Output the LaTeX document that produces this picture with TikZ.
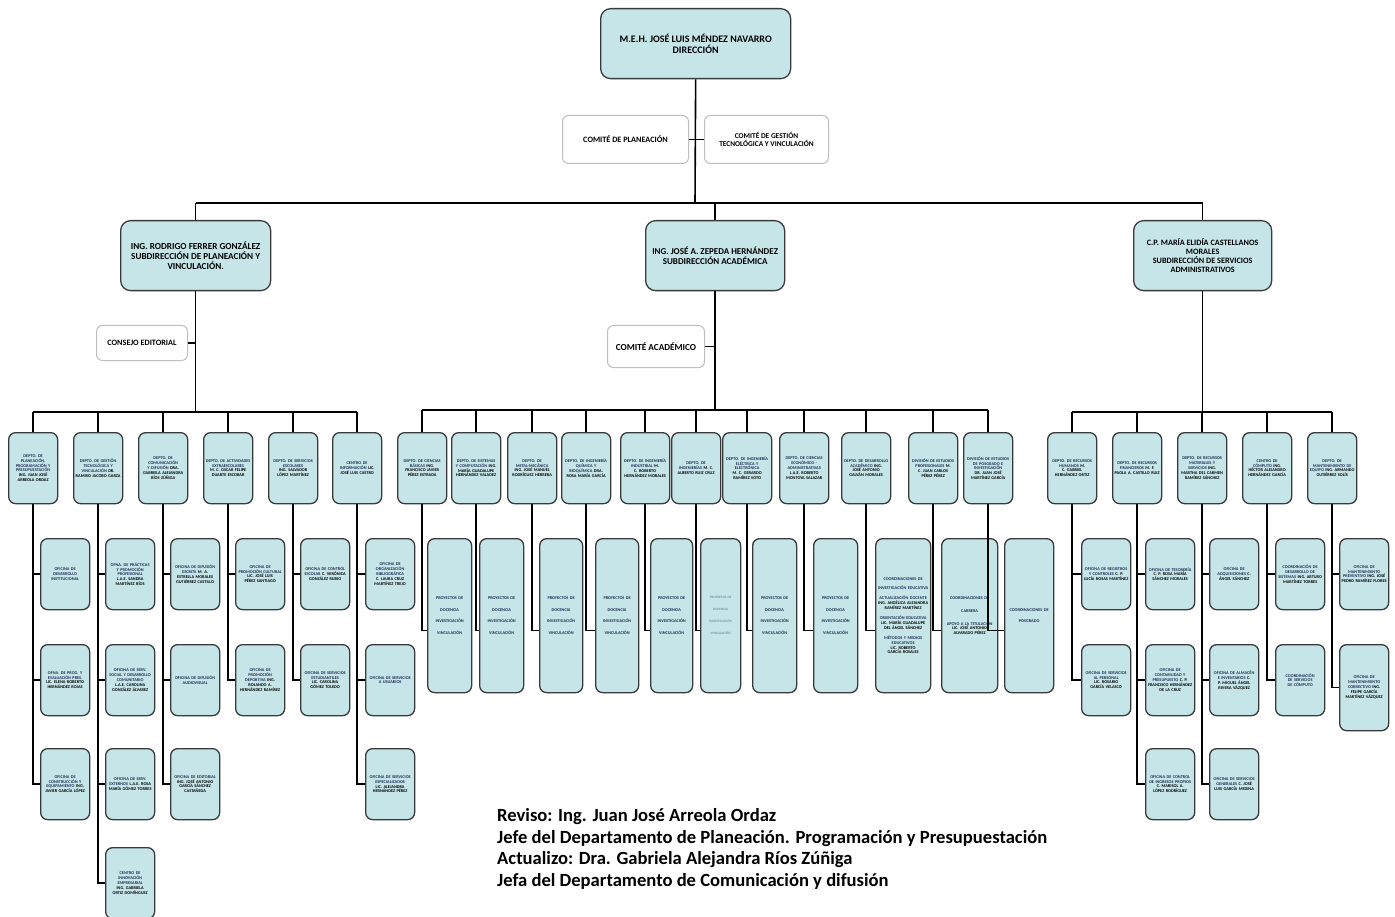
\documentclass[tikz,border=0pt]{standalone}
\usepackage{fontspec}
\setmainfont{Carlito}
\usetikzlibrary{calc,positioning}
\definecolor{boxfill}{HTML}{C5E5E8}
\definecolor{boxline}{HTML}{3A3A3A}
\definecolor{headblue}{HTML}{1F2F55}
\newcommand{\nm}[1]{{\color{black}#1}}
\hyphenpenalty=10000
\exhyphenpenalty=10000
\tikzset{
  link/.style={line width=1.6pt},
  orgbox/.style={draw=boxline, line width=1.3pt, fill=boxfill, rounded corners=8pt, align=center, anchor=north west, inner sep=2pt},
  topbox/.style={orgbox, rounded corners=10pt, font=\bfseries\fontsize{10}{11}\selectfont},
  combox/.style={orgbox, fill=white, draw=black!25, line width=1pt, rounded corners=6pt, font=\bfseries\fontsize{8.2}{8.6}\selectfont},
  deptbox/.style={orgbox, rounded corners=7pt, text width=45pt, minimum height=71pt, text=headblue, font=\bfseries\fontsize{4.3}{4.9}\selectfont},
  tallbox/.style={deptbox, minimum height=154pt}
}
\begin{document}
\begin{tikzpicture}[x=1pt,y=-1pt]
\useasboundingbox (0,0) rectangle (1395,917);
% direccion y comites
\node[topbox, minimum width=190pt, minimum height=70pt] (dir) at (600,8) {M.E.H. JOSÉ LUIS MÉNDEZ NAVARRO\\DIRECCIÓN};
\node[combox, minimum width=126pt, minimum height=48pt] (cplan) at (562,115) {COMITÉ DE PLANEACIÓN};
\node[combox, minimum width=124pt, minimum height=48pt, font=\bfseries\fontsize{7.4}{7.8}\selectfont] (cgest) at (704,115) {COMITÉ DE GESTIÓN\\TECNOLÓGICA Y VINCULACIÓN};
% subdirecciones
\node[topbox, minimum width=150pt, minimum height=70pt, font=\bfseries\fontsize{9.2}{10}\selectfont] (subpv) at (120,220) {ING. RODRIGO FERRER GONZÁLEZ\\SUBDIRECCIÓN DE PLANEACIÓN Y\\VINCULACIÓN.};
\node[topbox, minimum width=139pt, minimum height=70pt, font=\bfseries\fontsize{9}{9.8}\selectfont] (subac) at (645,220) {ING. JOSÉ A. ZEPEDA HERNÁNDEZ\\SUBDIRECCIÓN ACADÉMICA};
\node[topbox, minimum width=138pt, minimum height=70pt, font=\bfseries\fontsize{8.2}{8.8}\selectfont] (subad) at (1133,220) {C.P. MARÍA ELIDÍA CASTELLANOS\\MORALES\\SUBDIRECCIÓN DE SERVICIOS\\ADMINISTRATIVOS};
\node[combox, minimum width=91pt, minimum height=35pt] (cedit) at (96,325) {CONSEJO EDITORIAL};
\node[combox, minimum width=97pt, minimum height=42pt, font=\bfseries\fontsize{9.2}{9.8}\selectfont] (cacad) at (607,325) {COMITÉ ACADÉMICO};
\coordinate (bar) at (695,203);
\draw[link] (dir.south) -- (bar);
\draw[link] (cplan.east) -- (cgest.west);
\draw[link] (subpv.north |- bar) -- (subad.north |- bar);
\foreach \s in {subpv,subac,subad} {
  \draw[link] (\s.north) -- (\s.north |- bar);
}
\coordinate (lbar) at (0,412);
\coordinate (cbar) at (0,410);
\draw[link] (subpv.south) -- (subpv.south |- lbar);
\draw[link] (subac.south) -- (subac.south |- cbar);
\draw[link] (subad.south) -- (subad.south |- lbar);
\draw[link] (cedit.east) -- (cedit.east -| subpv.south);
\draw[link] (cacad.east) -- (cacad.east -| subac.south);
% departamentos de planeacion y vinculacion
\node[deptbox] (pv1) at (8,432) {DEPTO. DE PLANEACIÓN, PROGRAMACIÓN Y PRESUPUESTACIÓN \nm{ING. JUAN JOSÉ ARREOLA ORDAZ}};
\node[deptbox] (pv2) at (73,432) {DEPTO. DE GESTIÓN TECNOLÓGICA Y VINCULACIÓN \nm{DR. RAMIRO JACOBO GARZA}};
\node[deptbox] (pv3) at (138,432) {DEPTO. DE COMUNICACIÓN Y DIFUSIÓN \nm{DRA. GABRIELA ALEJANDRA RÍOS ZÚÑIGA}};
\node[deptbox] (pv4) at (203,432) {DEPTO. DE ACTIVIDADES EXTRAESCOLARES \nm{M. C. OSCAR FELIPE DUARTE ESCOBAR}};
\node[deptbox] (pv5) at (268,432) {DEPTO. DE SERVICIOS ESCOLARES \nm{ING. SALVADOR LÓPEZ MARTÍNEZ}};
\node[deptbox] (pv6) at (332,432) {CENTRO DE INFORMACIÓN \nm{LIC. JOSÉ LUIS CASTRO}};
% departamentos academicos
\node[deptbox] (ac1) at (397,432) {DEPTO. DE CIENCIAS BÁSICAS \nm{ING. FRANCISCO JAVIER PÉREZ ESTRADA}};
\node[deptbox] (ac2) at (451,432) {DEPTO. DE SISTEMAS Y COMPUTACIÓN \nm{ING. MARÍA GUADALUPE HERNÁNDEZ VALADEZ}};
\node[deptbox] (ac3) at (507,432) {DEPTO. DE METAL-MECÁNICA \nm{ING. JOSÉ MANUEL RODRÍGUEZ HERRERA}};
\node[deptbox] (ac4) at (561,432) {DEPTO. DE INGENIERÍA QUÍMICA Y BIOQUÍMICA \nm{DRA. ROSA MARÍA GARCÍA}};
\node[deptbox] (ac5) at (620,432) {DEPTO. DE INGENIERÍA INDUSTRIAL \nm{M. C. ROBERTO HERNÁNDEZ MORALES}};
\node[deptbox] (ac6) at (671,432) {DEPTO. DE INGENIERÍAS \nm{M. C. ALBERTO RUIZ CRUZ}};
\node[deptbox] (ac7) at (722,432) {DEPTO. DE INGENIERÍA ELÉCTRICA Y ELECTRÓNICA \nm{M. C. GERARDO RAMÍREZ SOTO}};
\node[deptbox] (ac8) at (779,432) {DEPTO. DE CIENCIAS ECONÓMICO - ADMINISTRATIVAS \nm{L.A.E. ROBERTO MONTOYA SALAZAR}};
\node[deptbox] (ac9) at (841,432) {DEPTO. DE DESARROLLO ACADÉMICO \nm{ING. JOSÉ ANTONIO GALVÁN MORALES}};
\node[deptbox] (ac10) at (908,432) {DIVISIÓN DE ESTUDIOS PROFESIONALES \nm{M. C. JUAN CARLOS PÉREZ PÉREZ}};
\node[deptbox] (ac11) at (963,432) {DIVISIÓN DE ESTUDIOS DE POSGRADO E INVESTIGACIÓN \nm{DR. JUAN JOSÉ MARTÍNEZ GARCÍA}};
% departamentos administrativos
\node[deptbox] (ad1) at (1047,432) {DEPTO. DE RECURSOS HUMANOS \nm{M. C. GABRIEL HERNÁNDEZ ORTIZ}};
\node[deptbox] (ad2) at (1112,432) {DEPTO. DE RECURSOS FINANCIEROS \nm{M. F. PAOLA A. CASTILLO RUIZ}};
\node[deptbox] (ad3) at (1177,432) {DEPTO. DE RECURSOS MATERIALES Y SERVICIOS \nm{ING. MARTHA DEL CARMEN RAMÍREZ SÁNCHEZ}};
\node[deptbox] (ad4) at (1242,432) {CENTRO DE CÓMPUTO \nm{ING. HÉCTOR ALEJANDRO HERNÁNDEZ GARCÍA}};
\node[deptbox] (ad5) at (1307,432) {DEPTO. DE MANTENIMIENTO DE EQUIPO \nm{ING. ARMANDO GUTIÉRREZ SOLÍS}};
\draw[link] (pv1.north |- lbar) -- (pv6.north |- lbar);
\draw[link] (ac1.north |- cbar) -- (ac11.north |- cbar);
\draw[link] (ad1.north |- lbar) -- (ad5.north |- lbar);
\foreach \d in {pv1,pv2,pv3,pv4,pv5,pv6,ad1,ad2,ad3,ad4,ad5} {
  \draw[link] (\d.north) -- (\d.north |- lbar);
}
\foreach \d in {1,...,11} {
  \draw[link] (ac\d.north) -- (ac\d.north |- cbar);
}
% oficinas de planeacion y vinculacion
\node[deptbox] (of11) at (40,538) {OFICINA DE DESARROLLO INSTITUCIONAL};
\node[deptbox] (of12) at (40,644) {OFNA. DE PROG. Y EVALUACIÓN PRES. \nm{LIC. ELENA ROBERTO HERNÁNDEZ ROJAS}};
\node[deptbox] (of13) at (40,748) {OFICINA DE CONSTRUCCIÓN Y EQUIPAMIENTO \nm{ING. JAVIER GARCÍA LÓPEZ}};
\node[deptbox] (of21) at (105,538) {OFNA. DE PRÁCTICAS Y PROMOCIÓN PROFESIONAL \nm{L.A.E. SANDRA MARTÍNEZ RÍOS}};
\node[deptbox] (of22) at (105,644) {OFICINA DE SERV. SOCIAL Y DESARROLLO COMUNITARIO \nm{L.A.E. CAROLINA GONZÁLEZ ÁLVAREZ}};
\node[deptbox] (of23) at (105,748) {OFICINA DE SERV. EXTERNOS \nm{L.A.E. ROSA MARÍA GÓMEZ TORRES}};
\node[deptbox] (of24) at (105,847) {CENTRO DE INNOVACIÓN EMPRESARIAL \nm{ING. GABRIELA ORTIZ DOMÍNGUEZ}};
\node[deptbox] (of31) at (170,538) {OFICINA DE DIFUSIÓN ESCRITA \nm{M. A. ESTRELLA MORALES GUTIÉRREZ CASTILLO}};
\node[deptbox] (of32) at (170,644) {OFICINA DE DIFUSIÓN AUDIOVISUAL};
\node[deptbox] (of33) at (170,748) {OFICINA DE EDITORIAL \nm{ING. JOSÉ ANTONIO GARCÍA SÁNCHEZ CASTAÑEDA}};
\node[deptbox] (of41) at (235,538) {OFICINA DE PROMOCIÓN CULTURAL \nm{LIC. JOSÉ LUIS PÉREZ SANTIAGO}};
\node[deptbox] (of42) at (235,644) {OFICINA DE PROMOCIÓN DEPORTIVA \nm{ING. ROLANDO A. HERNÁNDEZ RAMÍREZ}};
\node[deptbox] (of51) at (300,538) {OFICINA DE CONTROL ESCOLAR \nm{C. VERÓNICA GONZÁLEZ RUBIO}};
\node[deptbox] (of52) at (300,644) {OFICINA DE SERVICIOS ESTUDIANTILES \nm{LIC. CAROLINA GÓMEZ TOLEDO}};
\node[deptbox] (of61) at (365,538) {OFICINA DE ORGANIZACIÓN BIBLIOGRÁFICA \nm{C. LAURA CRUZ MARTÍNEZ TREJO}};
\node[deptbox] (of62) at (365,644) {OFICINA DE SERVICIOS A USUARIOS};
\node[deptbox] (of63) at (365,748) {OFICINA DE SERVICIOS ESPECIALIZADOS \nm{LIC. ALEJANDRA HERNÁNDEZ PÉREZ}};
\foreach \d/\o in {pv1/of11,pv1/of12,pv1/of13,pv2/of21,pv2/of22,pv2/of23,pv2/of24,pv3/of31,pv3/of32,pv3/of33,pv4/of41,pv4/of42,pv5/of51,pv5/of52,pv6/of61,pv6/of62,pv6/of63} {
  \draw[link] (\d.south) |- (\o.west);
}
% proyectos y coordinaciones academicas
\foreach \i/\x/\w in {1/427/44,2/479/44,3/539/43,4/595/43,5/650/42,7/752/44,8/813/44} {
  \node[tallbox, text width=\w pt-4pt] (pj\i) at (\x,538) {PROYECTOS DE\\[7pt]DOCENCIA\\[7pt]INVESTIGACIÓN\\[7pt]VINCULACIÓN};
}
\node[tallbox, text width=36pt, text=headblue!55, font=\bfseries\fontsize{3.4}{4}\selectfont] (pj6) at (700,538) {PROYECTOS DE\\[8pt]DOCENCIA\\[8pt]INVESTIGACIÓN\\[8pt]VINCULACIÓN};
\node[tallbox, text width=51pt] (pj9) at (875,538) {COORDINACIONES DE\\[5pt]INVESTIGACIÓN EDUCATIVA\\[5pt]ACTUALIZACIÓN DOCENTE\\\nm{ING. ANGÉLICA ALEJANDRA RAMÍREZ MARTÍNEZ}\\[5pt]ORIENTACIÓN EDUCATIVA\\\nm{LIC. MARÍA GUADALUPE DEL ÁNGEL SÁNCHEZ}\\[5pt]MÉTODOS Y MEDIOS EDUCATIVOS\\\nm{LIC. ROBERTO GARCÍA ROSALES}};
\node[tallbox, text width=52pt] (pj10) at (941,538) {COORDINACIONES DE\\[8pt]CARRERA\\[8pt]APOYO A LA TITULACIÓN\\\nm{LIC. JOSÉ ANTONIO ALVARADO PÉREZ}};
\node[tallbox, text width=45pt] (pj11) at (1004,538) {COORDINACIONES DE\\[6pt]POSGRADO};
\foreach \i in {1,...,11} {
  \draw[link] (ac\i.south) |- ([yshift=-15pt]pj\i.west);
}
% oficinas administrativas
\node[deptbox] (ro11) at (1081,538) {OFICINA DE REGISTROS Y CONTROLES \nm{C. P. LUCÍA ROSAS MARTÍNEZ}};
\node[deptbox] (ro12) at (1081,644) {OFICINA DE SERVICIOS AL PERSONAL \nm{LIC. ROSARIO GARCÍA VELASCO}};
\node[deptbox] (ro21) at (1145,538) {OFICINA DE TESORERÍA \nm{C. P. ROSA MARÍA SÁNCHEZ MORALES}};
\node[deptbox] (ro22) at (1145,644) {OFICINA DE CONTABILIDAD Y PRESUPUESTO \nm{C. P. FRANCISCO HERNÁNDEZ DE LA CRUZ}};
\node[deptbox] (ro23) at (1145,748) {OFICINA DE CONTROL DE INGRESOS PROPIOS \nm{C. MARISOL A. LÓPEZ RODRÍGUEZ}};
\node[deptbox] (ro31) at (1209,538) {OFICINA DE ADQUISICIONES \nm{C. ÁNGEL SÁNCHEZ}};
\node[deptbox] (ro32) at (1209,644) {OFICINA DE ALMACÉN E INVENTARIOS \nm{C. P. MIGUEL ÁNGEL RIVERA VÁZQUEZ}};
\node[deptbox] (ro33) at (1209,748) {OFICINA DE SERVICIOS GENERALES \nm{C. JOSÉ LUIS GARCÍA MEDINA}};
\node[deptbox] (ro41) at (1275,538) {COORDINACIÓN DE DESARROLLO DE SISTEMAS \nm{ING. ARTURO MARTÍNEZ TORRES}};
\node[deptbox] (ro42) at (1275,644) {COORDINACIÓN DE SERVICIOS DE CÓMPUTO};
\node[deptbox] (ro51) at (1339,538) {OFICINA DE MANTENIMIENTO PREVENTIVO \nm{ING. JOSÉ PEDRO RAMÍREZ FLORES}};
\node[deptbox, minimum height=86pt] (ro52) at (1339,644) {OFICINA DE MANTENIMIENTO CORRECTIVO \nm{ING. FELIPE GARCÍA MARTÍNEZ VÁZQUEZ}};
\foreach \d/\o in {ad1/ro11,ad1/ro12,ad2/ro21,ad2/ro22,ad2/ro23,ad3/ro31,ad3/ro32,ad3/ro33,ad4/ro41,ad4/ro42,ad5/ro51,ad5/ro52} {
  \draw[link] (\d.south) |- (\o.west);
}
% firmas
\node[anchor=north west, align=left, inner sep=0pt, font=\bfseries\fontsize{18.6}{21.8}\selectfont] (firma) at (497,808) {Reviso: Ing. Juan José Arreola Ordaz\\Jefe del Departamento de Planeación. Programación y Presupuestación\\Actualizo: Dra. Gabriela Alejandra Ríos Zúñiga\\Jefa del Departamento de Comunicación y difusión};
\end{tikzpicture}
\end{document}
